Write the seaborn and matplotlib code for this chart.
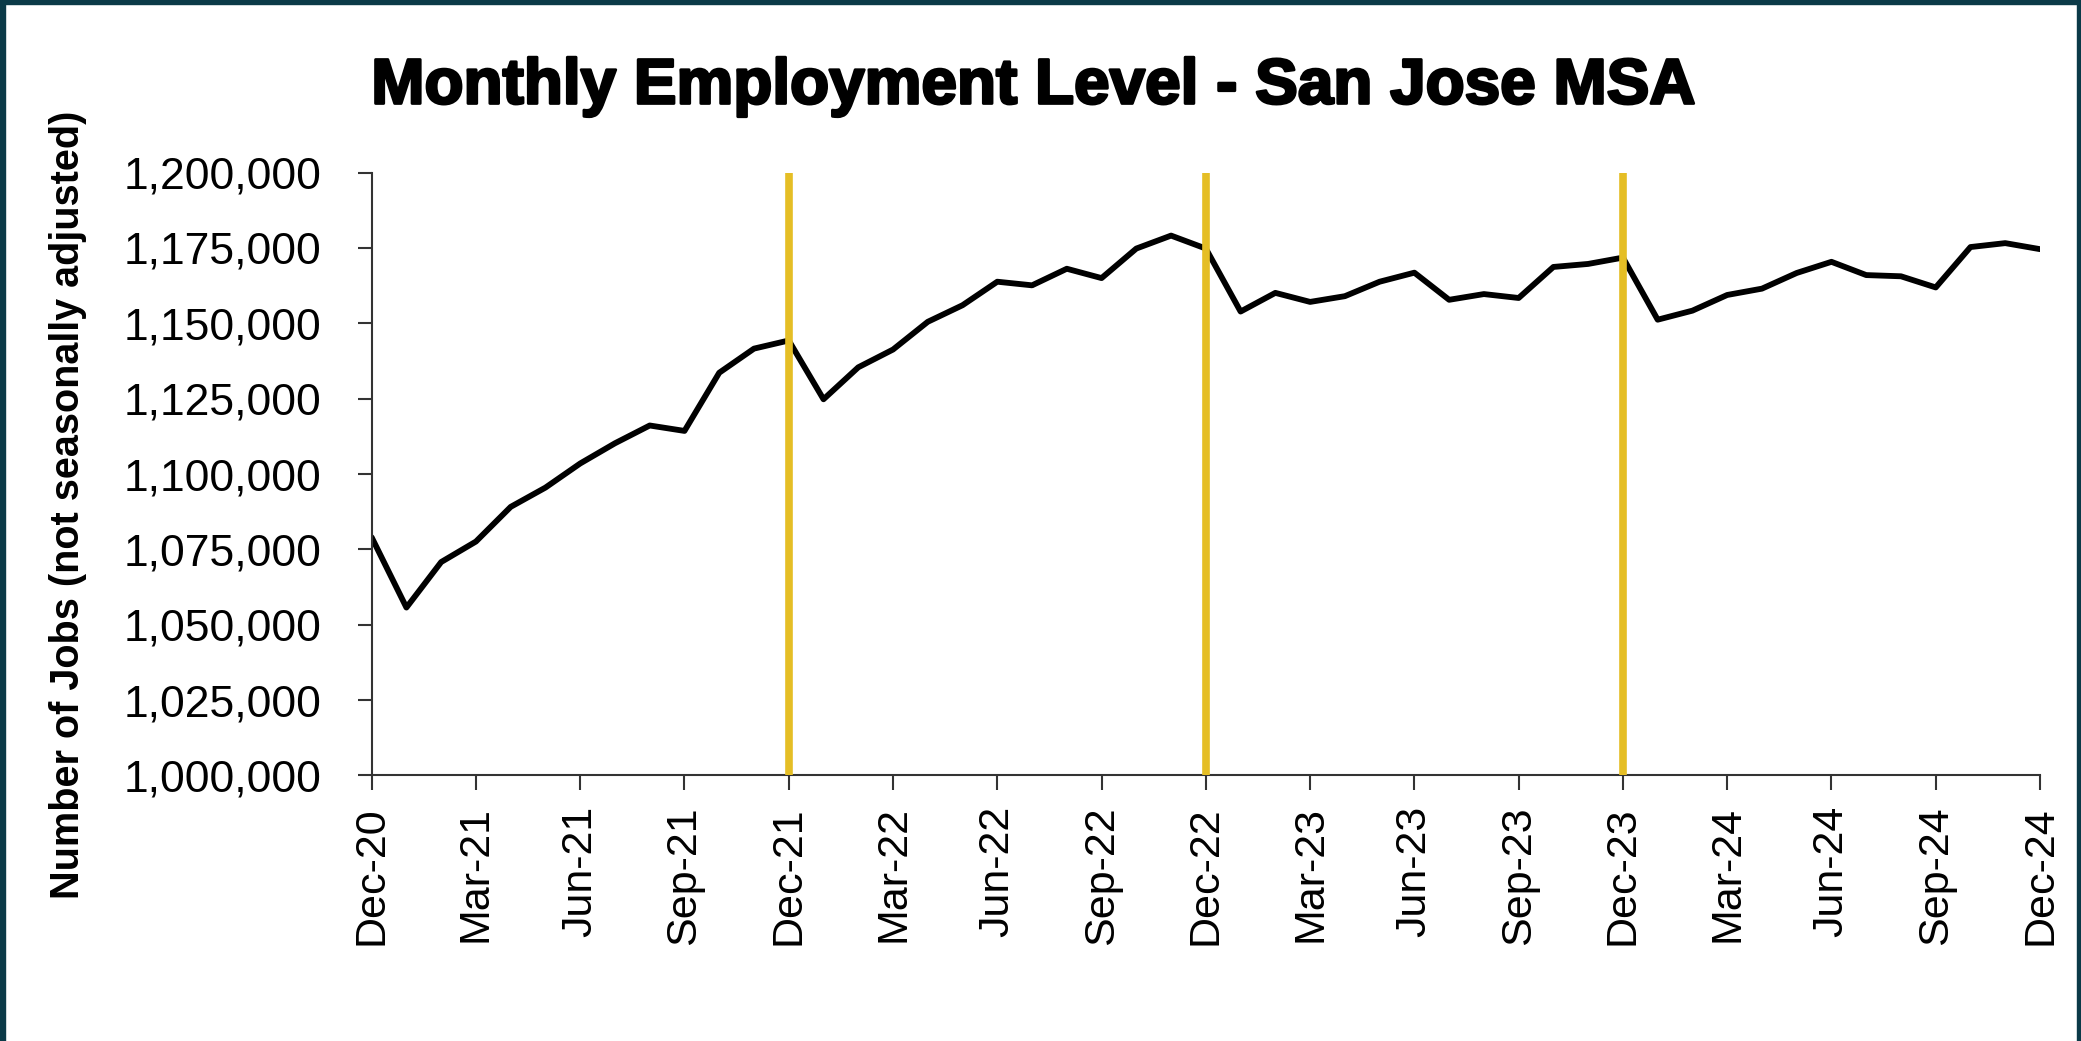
import matplotlib
matplotlib.use("Agg")
import matplotlib.pyplot as plt
import matplotlib.patheffects as pe
from matplotlib.patches import Rectangle
from matplotlib.ticker import FuncFormatter
import pandas as pd
import seaborn as sns

# monthly employment, Dec-2020 .. Dec-2024
months = pd.date_range("2020-12-01", "2024-12-01", freq="MS")
jobs = [
    1079000, 1055700, 1070800, 1077600, 1089100, 1095500, 1103500, 1110200,
    1116100, 1114300, 1133600, 1141600, 1144300, 1124800, 1135400, 1141300,
    1150500, 1156000, 1163800, 1162600, 1168100, 1165000, 1174800, 1179100,
    1174800, 1153900, 1160100, 1157100, 1159000, 1163800, 1166800, 1157800,
    1159700, 1158400, 1168700, 1169700, 1171800, 1151200, 1154200, 1159400,
    1161500, 1166700, 1170400, 1166000, 1165600, 1161900, 1175300, 1176600,
    1174600,
]
tick_labels = [
    "Dec-20", "Mar-21", "Jun-21", "Sep-21", "Dec-21", "Mar-22", "Jun-22",
    "Sep-22", "Dec-22", "Mar-23", "Jun-23", "Sep-23", "Dec-23", "Mar-24",
    "Jun-24", "Sep-24", "Dec-24",
]
year_marks = ["Dec-21", "Dec-22", "Dec-23"]

df = pd.DataFrame({"month": range(len(months)), "jobs": jobs})
label_pos = {m.strftime("%b-%y"): i for i, m in enumerate(months)}

sns.set_theme(style="ticks")
plt.rcParams["font.family"] = ["Liberation Sans", "DejaVu Sans"]
plt.rcParams["text.color"] = "black"

fig = plt.figure(figsize=(20.81, 10.41), dpi=100)
ax = fig.add_axes([0.1786, 0.2551, 0.8017, 0.5791])

sns.lineplot(data=df, x="month", y="jobs", color="black", linewidth=4.2, ax=ax)
for m in year_marks:
    ax.axvline(label_pos[m], color="#E5BE25", linewidth=5.5, zorder=3)

ax.set_xlim(0, len(months) - 1)
ax.set_ylim(1_000_000, 1_200_000)
ax.set_yticks(range(1_000_000, 1_200_001, 25_000))
ax.yaxis.set_major_formatter(FuncFormatter(lambda v, p: f"{v:,.0f}"))
ax.set_xticks([label_pos[t] for t in tick_labels])
ax.set_xticklabels(tick_labels, rotation=90)

sns.despine(ax=ax)
for side in ["left", "bottom"]:
    ax.spines[side].set_color("#333333")
    ax.spines[side].set_linewidth(1.5)
ax.tick_params(axis="y", length=10, width=1.5, color="#333333", pad=26,
               labelsize=32, labelcolor="black")
ax.tick_params(axis="x", length=11, width=1.5, color="#333333", pad=11,
               labelsize=31, labelcolor="black")
ax.set_xlabel("")
ax.set_ylabel("")

fig.text(0.0325, 0.515, "Number of Jobs (not seasonally adjusted)", rotation=90,
         ha="center", va="center", fontsize=28.5, fontweight="bold",
         color="black")
fig.text(0.4965, 0.9006, "Monthly Employment Level - San Jose MSA",
         ha="center", va="baseline", fontsize=46, fontweight="bold",
         color="black",
         path_effects=[pe.withStroke(linewidth=2, foreground="black")])

# dark frame around the slide (left, top, right)
frame = "#0B3A48"
fig.patches.append(Rectangle((0, 0), 5 / 2081, 1, transform=fig.transFigure,
                             color=frame, zorder=10))
fig.patches.append(Rectangle((1 - 4 / 2081, 0), 4 / 2081, 1,
                             transform=fig.transFigure, color=frame, zorder=10))
fig.patches.append(Rectangle((0, 1 - 4 / 1041), 1, 4 / 1041,
                             transform=fig.transFigure, color=frame, zorder=10))

fig.savefig("out.png", dpi=100)
